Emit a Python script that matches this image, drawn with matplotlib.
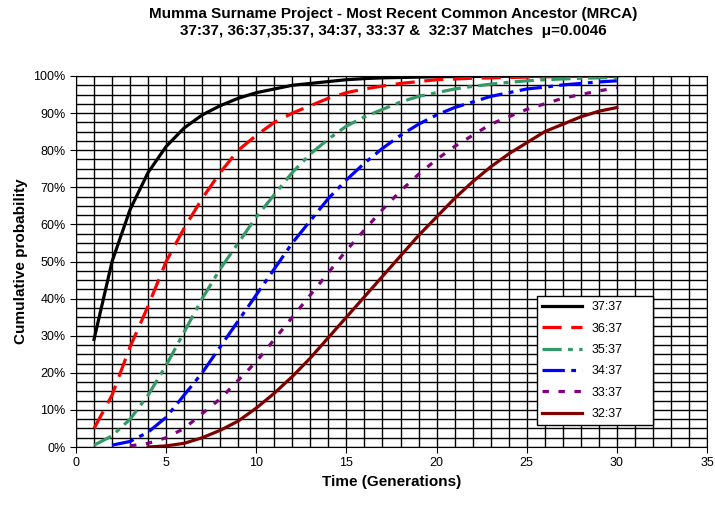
import matplotlib
matplotlib.use("Agg")
import matplotlib.pyplot as plt
import numpy as np
plt.rcParams['font.family'] = 'Liberation Sans'

t_black = list(range(1, 31))
black = [29,50,64,74,81,86,89.5,92,94,95.5,96.5,97.5,98,98.5,99,99.3,99.5,99.6,99.7,99.8,99.85,99.9,99.9,99.95,99.95,100,100,100,100,100]
t_red = list(range(1, 31))
red = [5,14,27,38,50,59,67,74,80,84,87.5,90,92,94,95.5,96.5,97.3,98,98.5,99,99.2,99.4,99.5,99.6,99.7,99.8,99.85,99.9,99.9,99.95]
t_green = list(range(1, 31))
green = [0.5,3,7.5,14,22,31,40,48,55,62,68,74,79,83,86.5,89,91,93,94.5,95.5,96.5,97.2,97.8,98.3,98.7,99,99.2,99.4,99.5,99.6]
t_blue = list(range(2, 31))
blue = [0.5,1.5,4,8,14,20,27,34,41,48,55,61,67,72,76.5,80.5,84,87,89.5,91.5,93,94.5,95.5,96.5,97,97.6,98,98.4,98.7]
t_purple = list(range(3, 31))
purple = [0.3,1,2.5,5,9,13,18,23,29,35,41,47,53,58.5,64,69,73.5,77.5,81,84,87,89,91,92.5,94,95,96,96.8]
t_dred = list(range(4, 31))
dred = [0,0.3,1,2.5,4.5,7,10.5,14.5,19,24,29.5,35,40.5,46,51.5,57,62,67,71.5,75.5,79,82,85,87,89,90.5,91.5]

labels = ["37:37", "36:37", "35:37", "34:37", "33:37", "32:37"]

fig = plt.figure(figsize=(7.15, 5.05), dpi=100)
ax = fig.add_axes([76/715, 1-447/505, 631/715, 371/505])
ax.set_xlim(0, 35); ax.set_ylim(0, 1)
ax.set_xticks(np.arange(0, 36, 5))
ax.set_xticks(np.arange(0, 36, 1), minor=True)
ax.set_yticks(np.arange(0, 1.01, 0.1))
ax.set_yticks(np.arange(0, 1.01, 0.025), minor=True)
ax.set_yticklabels([f"{int(v)}%" for v in range(0, 101, 10)])
ax.grid(True, which='both', color='black', linewidth=1)
ax.tick_params(which='minor', length=0)
ax.tick_params(which='major', direction='out', length=4, labelsize=9)
ax.set_axisbelow(True)

lw = 2.3
def pct(v): return np.array(v) / 100
ax.plot(t_black, pct(black), color='black', lw=lw, label=labels[0])
ax.plot(t_red, pct(red), color='red', lw=lw, dashes=(6, 3), label=labels[1])
ax.plot(t_green, pct(green), color='#339966', lw=lw, dashes=(6, 2, 1.5, 2), label=labels[2])
ax.plot(t_blue, pct(blue), color='blue', lw=lw, dashes=(7, 2, 1.5, 2), label=labels[3])
ax.plot(t_purple, pct(purple), color='#800080', lw=lw, dashes=(2, 3), label=labels[4])
ax.plot(t_dred, pct(dred), color='#800000', lw=lw, label=labels[5])

leg = ax.legend(loc='lower left', bbox_to_anchor=((537-76)/631, (447-425)/371, (653-537)/631, (425-283)/371),
                mode='expand', frameon=True, fancybox=False, edgecolor='black', fontsize=9,
                handlelength=3.2, labelspacing=0.75, borderaxespad=0)
leg.get_frame().set_linewidth(1)
leg.get_frame().set_alpha(1)

ax.set_xlabel("Time (Generations)", fontsize=11, fontweight='bold')
ax.set_ylabel("Cumulative probability", fontsize=11, fontweight='bold')
fig.text(0.55, 0.955, "Mumma Surname Project - Most Recent Common Ancestor (MRCA)\n37:37, 36:37,35:37, 34:37, 33:37 &  32:37 Matches  \u03bc=0.0046",
         ha='center', va='center', fontsize=11, fontweight='bold', linespacing=1.3)
fig.savefig("out.png", dpi=100)
